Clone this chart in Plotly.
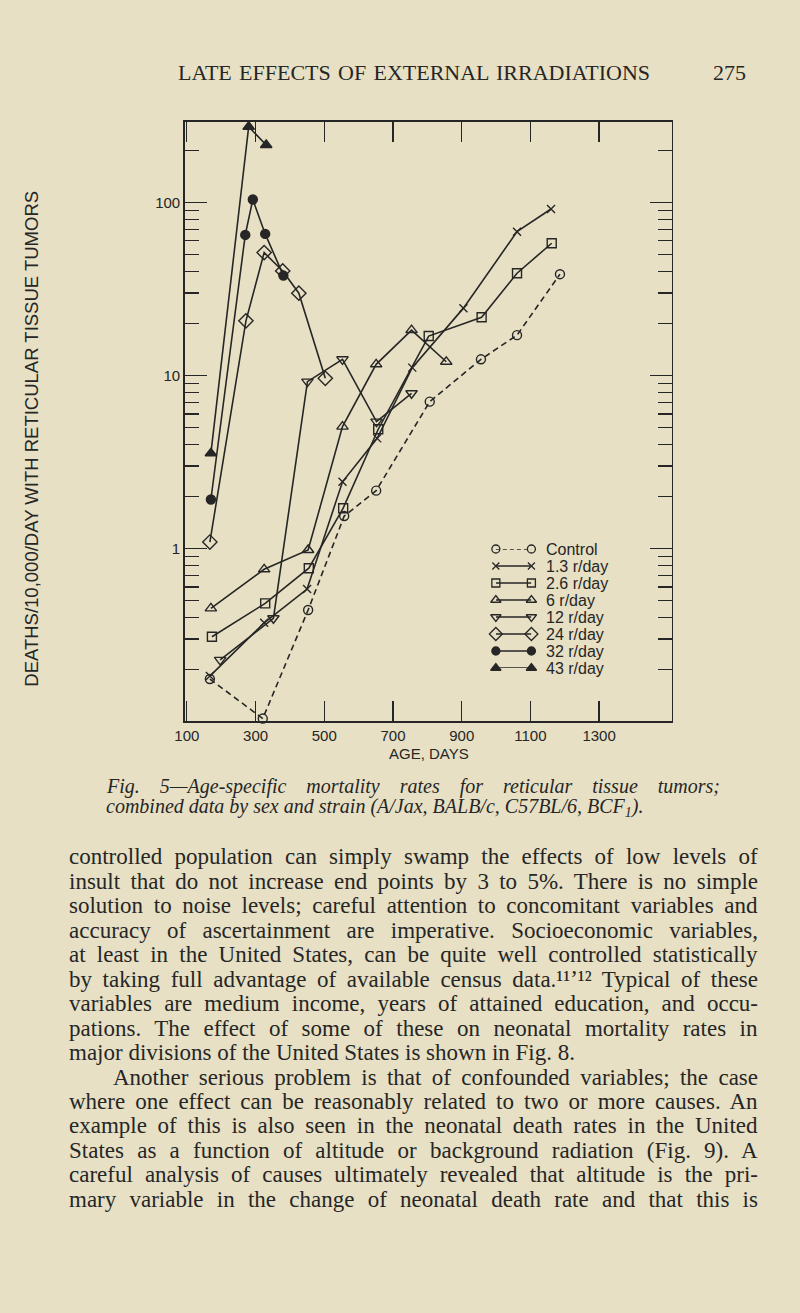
import json
import plotly.graph_objects as go

# ---------------- data ----------------
series_names = ["Control", "1.3 r/day", "2.6 r/day", "6 r/day",
                "12 r/day", "24 r/day", "32 r/day", "43 r/day"]

ctrl_age = [167, 321, 453, 558, 651, 807, 956, 1061, 1186]
ctrl_rate = [0.176, 0.104, 0.441, 1.54, 2.16, 7.06, 12.4, 17.1, 38.5]

r1_3_age = [167, 325, 450, 553, 654, 756, 905, 1061, 1160]
r1_3_rate = [0.183, 0.372, 0.583, 2.43, 4.33, 11.1, 24.5, 67.8, 91.7]

r2_6_age = [173, 328, 455, 555, 657, 804, 958, 1061, 1162]
r2_6_rate = [0.309, 0.482, 0.769, 1.71, 4.89, 16.9, 21.7, 39.0, 58.1]

r6_age = [170, 325, 453, 553, 651, 754, 855]
r6_rate = [0.451, 0.758, 0.98, 5.06, 11.6, 18.3, 12.0]

r12_age = [197, 352, 451, 553, 652, 754]
r12_rate = [0.227, 0.395, 9.21, 12.4, 5.41, 7.89]

r24_age = [167, 272, 325, 379, 426, 503]
r24_rate = [1.09, 20.7, 51.3, 40.2, 29.9, 9.63]

r32_age = [170, 270, 292, 328, 381]
r32_rate = [1.92, 64.9, 104, 65.8, 37.8]

r43_age = [170, 280, 331]
r43_rate = [3.55, 274, 215]

x_ticks = [100, 300, 500, 700, 900, 1100, 1300]
y_ticks = [0.1, 1, 10, 100]
y_ticktext = ["0.1", "1", "10", "100"]
y_minor = [0.2, 0.3, 0.4, 0.5, 0.6, 0.7, 0.8, 0.9,
           2, 3, 4, 5, 6, 7, 8, 9,
           20, 30, 40, 50, 60, 70, 80, 90, 200]

header_text = "LATE EFFECTS OF EXTERNAL IRRADIATIONS"
page_number = "275"
caption_lines = [
    "<i>Fig. 5—Age-specific mortality rates for reticular tissue tumors;</i>",
    "<i>combined data by sex and strain (A/Jax, BALB/c, C57BL/6, BCF<sub>1</sub>).</i>",
]
body_lines = [
    "controlled population can simply swamp the effects of low levels of",
    "insult that do not increase end points by 3 to 5%. There is no simple",
    "solution to noise levels; careful attention to concomitant variables and",
    "accuracy of ascertainment are imperative. Socioeconomic variables,",
    "at least in the United States, can be quite well controlled statistically",
    "by taking full advantage of available census data.¹¹ʼ¹² Typical of these",
    "variables are medium income, years of attained education, and occu-",
    "pations. The effect of some of these on neonatal mortality rates in",
    "major divisions of the United States is shown in Fig. 8.",
    "Another serious problem is that of confounded variables; the case",
    "where one effect can be reasonably related to two or more causes. An",
    "example of this is also seen in the neonatal death rates in the United",
    "States as a function of altitude or background radiation (Fig. 9). A",
    "careful analysis of causes ultimately revealed that altitude is the pri-",
    "mary variable in the change of neonatal death rate and that this is",
]
indent_lines = [9]
paragraph_end_lines = [8]

# ---------------- styling ----------------
W, H = 800, 1313
BG = "#e7e0c4"
INK = "#262626"
SANS = "Liberation Sans"
SERIF = "Liberation Serif"

styles = [
    dict(symbol="circle-open", size=9, dash="6px,4px"),
    dict(symbol="x-thin-open", size=8, dash="solid"),
    dict(symbol="square-open", size=9, dash="solid"),
    dict(symbol="triangle-up-open", size=10, dash="solid"),
    dict(symbol="triangle-down-open", size=10, dash="solid"),
    dict(symbol="diamond-open", size=11, dash="solid"),
    dict(symbol="circle", size=9, dash="solid"),
    dict(symbol="triangle-up", size=10, dash="solid"),
]
all_data = [(ctrl_age, ctrl_rate), (r1_3_age, r1_3_rate), (r2_6_age, r2_6_rate),
            (r6_age, r6_rate), (r12_age, r12_rate), (r24_age, r24_rate),
            (r32_age, r32_rate), (r43_age, r43_rate)]

fig = go.Figure()

for name, (ax, ay), st in zip(series_names, all_data, styles):
    fig.add_trace(go.Scatter(
        x=ax, y=ay, mode="lines+markers", name=name, showlegend=False,
        line=dict(color=INK, width=1.6, dash=st["dash"]),
        marker=dict(symbol=st["symbol"], size=st["size"], color=INK,
                    line=dict(color=INK, width=1.4)),
        cliponaxis=False,
    ))

# custom legend (marker-line-marker samples) on a hidden helper axis
for i, (name, st) in enumerate(zip(series_names, styles)):
    fig.add_trace(go.Scatter(
        x=[0, 1], y=[i, i], mode="lines+markers", showlegend=False,
        xaxis="x3", yaxis="y3", hoverinfo="skip",
        line=dict(color=INK, width=1.5, dash="4px,3px" if i == 0 else "solid"),
        marker=dict(symbol=st["symbol"], size=st["size"] - 1, color=INK,
                    line=dict(color=INK, width=1.3)),
        cliponaxis=False,
    ))

annotations = []
justify = {}  # annotation index -> target width in px

for i, name in enumerate(series_names):
    annotations.append(dict(
        x=1, y=i, xref="x3", yref="y3", text=name, showarrow=False,
        xanchor="left", yanchor="middle", xshift=13,
        font=dict(family=SANS, size=16, color=INK)))


def py(p):
    return 1 - p / H


# page header
justify[len(annotations)] = 640 - 168
annotations.append(dict(x=168 / W, y=py(72), xref="paper", yref="paper",
                        text=header_text, showarrow=False, xanchor="left",
                        yanchor="middle", font=dict(family=SERIF, size=22, color=INK)))
annotations.append(dict(x=747 / W, y=py(72), xref="paper", yref="paper",
                        text=page_number, showarrow=False, xanchor="right",
                        yanchor="middle", font=dict(family=SERIF, size=22, color=INK)))

# axis titles
annotations.append(dict(x=424 / W, y=py(753), xref="paper", yref="paper",
                        text="AGE, DAYS", showarrow=False, xanchor="center",
                        yanchor="middle", font=dict(family=SANS, size=15, color=INK)))
annotations.append(dict(x=22 / W, y=py(439), xref="paper", yref="paper",
                        text="DEATHS/10,000/DAY WITH RETICULAR TISSUE TUMORS",
                        textangle=-90, showarrow=False, xanchor="center",
                        yanchor="middle", font=dict(family=SANS, size=18.5, color=INK)))

# caption
for k, line in enumerate(caption_lines):
    if k == 0:
        justify[len(annotations)] = 709 - 95
    annotations.append(dict(x=95 / W, y=py(786 + 21.5 * k), xref="paper", yref="paper",
                            text=line, showarrow=False, xanchor="left", yanchor="middle",
                            font=dict(family=SERIF, size=20, color=INK)))

# body text
for k, line in enumerate(body_lines):
    x0 = 102 if k in indent_lines else 58
    if k not in paragraph_end_lines:
        justify[len(annotations)] = 747 - x0
    annotations.append(dict(x=x0 / W, y=py(857 + 24.45 * k), xref="paper", yref="paper",
                            text=line, showarrow=False, xanchor="left", yanchor="middle",
                            font=dict(family=SERIF, size=23, color=INK)))

fig.update_layout(
    width=W, height=H, autosize=False,
    margin=dict(l=0, r=0, t=0, b=0),
    paper_bgcolor=BG, plot_bgcolor="rgba(0,0,0,0)",
    showlegend=False,
    annotations=annotations,
    xaxis=dict(
        domain=[177 / W, 670 / W], range=[94, 1511], type="linear",
        tickvals=x_ticks, ticktext=[str(v) for v in x_ticks],
        ticks="inside", ticklen=20, tickwidth=1.3, tickcolor=INK,
        showline=True, linecolor=INK, linewidth=1.6, mirror="ticks",
        showgrid=False, zeroline=False,
        tickfont=dict(family=SANS, size=15, color=INK),
    ),
    yaxis=dict(
        domain=[py(721), py(122)], type="log", range=[-0.997, 2.465],
        tickvals=y_ticks, ticktext=y_ticktext,
        ticks="inside", ticklen=22, tickwidth=1.3, tickcolor=INK,
        showline=True, linecolor=INK, linewidth=1.6, mirror="ticks",
        showgrid=False, zeroline=False,
        tickfont=dict(family=SANS, size=15, color=INK),
        minor=dict(tickmode="array", tickvals=y_minor, ticks="inside",
                   ticklen=14, tickwidth=1.3, tickcolor=INK, showgrid=False),
    ),
    xaxis3=dict(domain=[492 / W, 528 / W], range=[0, 1], visible=False,
                fixedrange=True, anchor="y3"),
    yaxis3=dict(domain=[py(668), py(549)], range=[7, 0], visible=False,
                fixedrange=True, anchor="x3"),
)

post_js = """
document.body.style.margin = '0';
document.body.style.background = '%s';
var gd = document.getElementById('{plot_id}');
var spec = %s;
Object.keys(spec).forEach(function(k) {
  var g = gd.querySelector('g.annotation[data-index="' + k + '"]');
  if (!g) return;
  var t = g.querySelector('text');
  if (!t) return;
  var bb = t.getBBox();
  var n = (t.textContent.match(/ /g) || []).length;
  if (n === 0) return;
  var ws = (spec[k] - bb.width) / n;
  t.style.wordSpacing = ws + 'px';
  var bb2 = t.getBBox();
  var dx = bb.x - bb2.x;
  var cur = t.getAttribute('transform') || '';
  t.setAttribute('transform', (cur + ' translate(' + dx + ',0)').trim());
});
""" % (BG, json.dumps(justify))

fig.write_html("out.html", post_script=post_js,
               config={"displayModeBar": False, "staticPlot": True})
